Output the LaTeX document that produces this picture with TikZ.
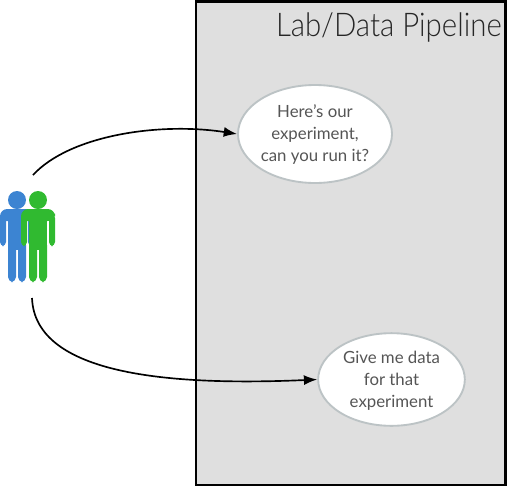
\documentclass[tikz,border=0pt]{standalone}
\usepackage{fontspec}
\setmainfont{Lato}
\newfontfamily\titlefont{Lato Light}
\usetikzlibrary{shapes.geometric,arrows.meta}
\definecolor{panelgray}{HTML}{DFDFDF}
\definecolor{ellipseedge}{HTML}{BCC3C5}
\definecolor{bubbletext}{HTML}{555555}
\definecolor{personblue}{HTML}{3C84D2}
\definecolor{persongreen}{HTML}{30BA30}
\tikzset{
  panel/.style={draw=black,line width=1.6pt,fill=panelgray},
  bubble/.style={ellipse,draw=ellipseedge,line width=1.4pt,fill=white,inner sep=0pt,
    text=bubbletext,align=center,font=\fontsize{12.6}{16.5}\selectfont},
  flow/.style={draw=black,line width=1.25pt,-{Latex[length=10pt,width=7.5pt]}}
}
\newcommand{\personshape}[2]{%
  \fill[#2] (#1,200) circle (9);
  \fill[#2,rounded corners=5.5] (#1-17,221) -- (#1-17,209) -- (#1+17,209) -- (#1+17,221) [sharp corners] -- cycle;
  \fill[#2,rounded corners=3] (#1-17,214) rectangle (#1-11,246);
  \fill[#2,rounded corners=3] (#1+11,214) rectangle (#1+17,246);
  \fill[#2] (#1-9,215) rectangle (#1+9,250);
  \fill[#2,rounded corners=3.8] (#1-9,240) rectangle (#1-1,282);
  \fill[#2,rounded corners=3.8] (#1+1,240) rectangle (#1+9,282);
}
\begin{document}
\begin{tikzpicture}[x=0.75pt,y=-0.75pt]
\useasboundingbox (0,0) rectangle (508,487);
\draw[panel] (196,1.5) rectangle (505.5,485);
\node[anchor=east,font=\fontsize{24.5}{26}\selectfont\titlefont,text=black!85,inner sep=0pt,xscale=0.9] (title) at (502,27) {Lab/Data Pipeline};
\node[bubble,minimum width=115.5pt,minimum height=73.5pt] (ask) at (315,134) {\rule{0pt}{11pt}Here’s our\\experiment,\\can you run it?};
\node[bubble,minimum width=110pt,minimum height=69.5pt] (give) at (391.5,379.5) {\rule{0pt}{11pt}Give me data\\for that\\experiment};
\personshape{17}{personblue}
\personshape{38}{persongreen}
\coordinate (peopletop) at (33,175);
\coordinate (peoplebottom) at (32,298);
\draw[flow] (peopletop) .. controls (70,135) and (160,122) .. (ask.west);
\draw[flow] (peoplebottom) .. controls (35,375) and (170,386) .. (give.west);
\end{tikzpicture}
\end{document}
